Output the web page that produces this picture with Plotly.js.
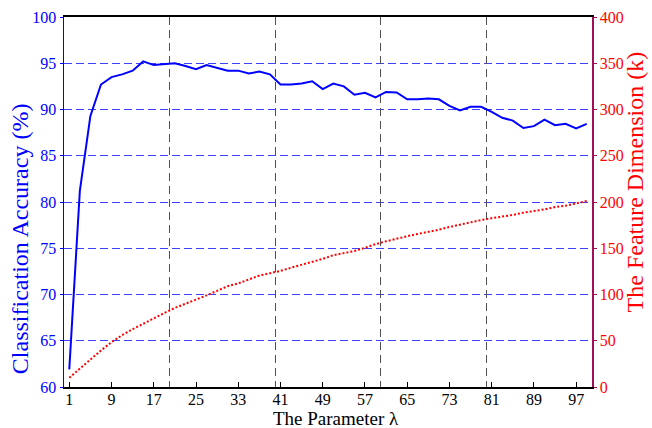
<!DOCTYPE html>
<html>
<head>
<meta charset="utf-8">
<script src="https://cdn.plot.ly/plotly-3.0.1.min.js"></script>
<style>html,body{margin:0;padding:0;background:#fff;}#chart{width:652px;height:428px;}</style>
</head>
<body>
<div id="chart"></div>
<script>
// Parameter lambda (odd values 1..99)
var lambdaValues = [1,3,5,7,9,11,13,15,17,19,21,23,25,27,29,31,33,35,37,39,41,43,45,47,49,
  51,53,55,57,59,61,63,65,67,69,71,73,75,77,79,81,83,85,87,89,91,93,95,97,99];
// Classification accuracy (%) - left axis
var accuracyValues = [61.9,81.2,89.3,92.7,93.5,93.8,94.2,95.2,94.8,94.9,95.0,94.7,94.35,94.8,94.5,94.2,94.2,93.9,94.1,93.8,
  92.7,92.7,92.8,93.05,92.2,92.8,92.5,91.6,91.8,91.3,91.9,91.85,91.1,91.1,91.2,91.1,90.4,89.9,90.3,90.3,
  89.75,89.1,88.8,88.0,88.2,88.9,88.3,88.45,87.95,88.45];
// Feature dimension (k) - right axis
var featureDimValues = [10,20,30.5,39.5,48.5,56,62.5,68.5,74.5,80,85.5,90,94,99,104,109,112,116,120.5,123,
  125.5,129,132,135,138.5,142.5,145,147,150.5,154.5,157.5,160.5,163,165.5,167.5,170,173,175.5,178.5,180.5,
  182.5,184,186,188.5,190,192,194.5,196,198.5,201];
var xTickValues = [1,9,17,25,33,41,49,57,65,73,81,89,97];
var xGridValues = [20,40,60,80];
var leftTitle = "Classification Accuracy (%)";
var rightTitle = "The Feature Dimension (k)";
var xTitle = "The Parameter λ";

var FONT = "Liberation Serif";

var traces = [
  {x: lambdaValues, y: accuracyValues, type: "scatter", mode: "lines",
   line: {color: "#0000ff", width: 2}, xaxis: "x", yaxis: "y", name: "Accuracy"},
  {x: lambdaValues, y: featureDimValues, type: "scatter", mode: "lines",
   line: {color: "#ff0000", width: 2, dash: "2px,2px"}, xaxis: "x2", yaxis: "y2", name: "Dimension"}
];

var layout = {
  width: 652, height: 428,
  margin: {l: 64, r: 60, t: 17, b: 41, pad: 0},
  paper_bgcolor: "#ffffff", plot_bgcolor: "#ffffff",
  showlegend: false,
  font: {family: FONT, size: 16, color: "#000"},
  xaxis: {
    range: [0, 100], tickmode: "array", tickvals: xTickValues,
    ticks: "inside", ticklen: 5, tickcolor: "#000", tickwidth: 1,
    ticklabelstandoff: -3,
    showgrid: false, zeroline: false,
    showline: true, linecolor: "#000", linewidth: 2, mirror: true,
    tickfont: {family: FONT, size: 16, color: "#000"}
  },
  xaxis2: {
    overlaying: "x", anchor: "y", side: "bottom", range: [0, 100],
    tickmode: "array", tickvals: xGridValues, showticklabels: false, ticks: "",
    showgrid: true, gridcolor: "#505050", gridwidth: 1, griddash: "8px,5px",
    zeroline: false, showline: false
  },
  yaxis: {
    range: [60, 100], tick0: 60, dtick: 5,
    ticks: "outside", ticklen: 3, tickcolor: "#0000ff",
    showline: true, linecolor: "#0000ff", linewidth: 1.5,
    showgrid: true, gridcolor: "rgba(30,30,255,0.85)", gridwidth: 1, griddash: "8px,4px",
    zeroline: false,
    tickfont: {family: FONT, size: 16, color: "#0000ff"}
  },
  yaxis2: {
    overlaying: "y", side: "right", anchor: "x", range: [0, 400], tick0: 0, dtick: 50,
    ticks: "outside", ticklen: 3, tickcolor: "#a0105a",
    showline: true, linecolor: "#a0105a", linewidth: 1.5,
    showgrid: false, zeroline: false,
    tickfont: {family: FONT, size: 16, color: "#ff0000"}
  },
  annotations: [
    {text: leftTitle, xref: "paper", yref: "paper", x: -0.083, y: 0.40, textangle: -90,
     showarrow: false, xanchor: "center", yanchor: "middle",
     font: {family: FONT, size: 24, color: "#0000ff"}},
    {text: rightTitle, xref: "paper", yref: "paper", x: 1.081, y: 0.555, textangle: -90,
     showarrow: false, xanchor: "center", yanchor: "middle",
     font: {family: FONT, size: 24, color: "#ff0000"}},
    {text: xTitle, xref: "paper", yref: "paper", x: 0.515, y: -0.084,
     showarrow: false, xanchor: "center", yanchor: "middle",
     font: {family: FONT, size: 19, color: "#000"}}
  ]
};

Plotly.newPlot("chart", traces, layout, {staticPlot: true, displayModeBar: false});
</script>
</body>
</html>
